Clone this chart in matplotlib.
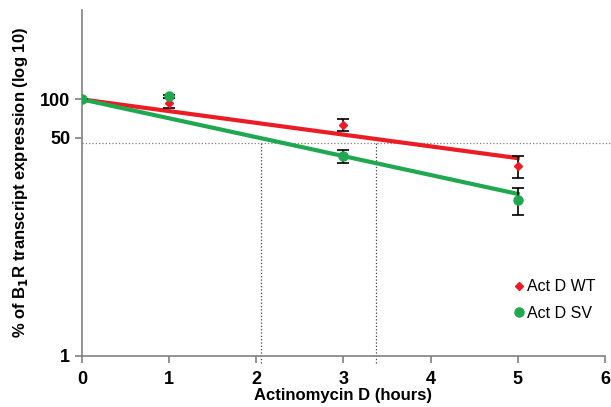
import numpy as np
import matplotlib
matplotlib.use("Agg")
import matplotlib.pyplot as plt

plt.rcParams['font.family'] = ['Liberation Sans', 'DejaVu Sans']

# data
hours = [0, 1, 3, 5]
wt = [100, 94, 63.5, 30.2]
wt_err = [0, 8, 6.5, 6]
sv = [100, 106, 36.1, 16.5]
sv_err = [0, 3, 4, 4]

# exponential trend lines (endpoints)
trend_x = [0, 5]
wt_trend = [100, 34.8]
sv_trend = [100, 18.3]

# half-life guide lines
half_level = 45.5
half_wt = 3.37
half_sv = 2.05

red = '#ED1C24'
green = '#1FA84F'

fig = plt.figure(figsize=(6.11, 4.07), dpi=100)
ax = fig.add_axes([0.134, 0.126, 0.856, 0.85])

ax.set_yscale('log')
ax.set_xlim(0, 6)
ax.set_ylim(1, 500)

# guide lines
ax.axhline(half_level, xmin=0, xmax=1.02, color='#808080', ls=':', lw=0.9, clip_on=False)
for hx in [half_sv, half_wt]:
    ax.plot([hx, hx], [0.88, half_level], color='#404040', ls=':', lw=0.9, clip_on=False)

ax.plot(trend_x, wt_trend, color=red, lw=3, zorder=3)
ax.plot(trend_x, sv_trend, color=green, lw=3, zorder=3)

ax.errorbar(hours, wt, yerr=wt_err, fmt='D', color=red, ms=4.5, ecolor='black',
            elinewidth=1.2, capsize=4, capthick=1.2, label='Act D WT', zorder=4)
ax.errorbar(hours, sv, yerr=sv_err, fmt='o', color=green, ms=6.5, ecolor='black',
            elinewidth=1.2, capsize=4, capthick=1.2, label='Act D SV', zorder=5)

ax.set_yticks([1, 50, 100])
ax.set_yticklabels(['1', '50', '100'])
ax.yaxis.set_minor_locator(matplotlib.ticker.NullLocator())
ax.set_xticks(range(7))

for s in ['top', 'right']:
    ax.spines[s].set_visible(False)
for s in ['left', 'bottom']:
    ax.spines[s].set_color('#808080')
    ax.spines[s].set_linewidth(1.2)
ax.tick_params(colors='#808080', labelcolor='black', length=5, width=1.2, labelsize=13)
ax.tick_params(axis='x', pad=6)
for lbl in ax.get_xticklabels() + ax.get_yticklabels():
    lbl.set_fontweight('bold')

ax.set_xlabel('Actinomycin D (hours)', fontsize=12, fontweight='bold', labelpad=0)
ax.set_ylabel('% of B$_{\\mathbf{1}}$R transcript expression (log 10)', fontsize=12,
              fontweight='bold', labelpad=7)

handles, labels = ax.get_legend_handles_labels()
handles = [h[0] for h in handles]
ax.legend(handles, labels, loc='lower right', bbox_to_anchor=(1.01, 0.06), frameon=False,
          fontsize=11.5, handletextpad=0.0, handlelength=1.0, labelspacing=0.7)

fig.savefig('out.png', dpi=100)
